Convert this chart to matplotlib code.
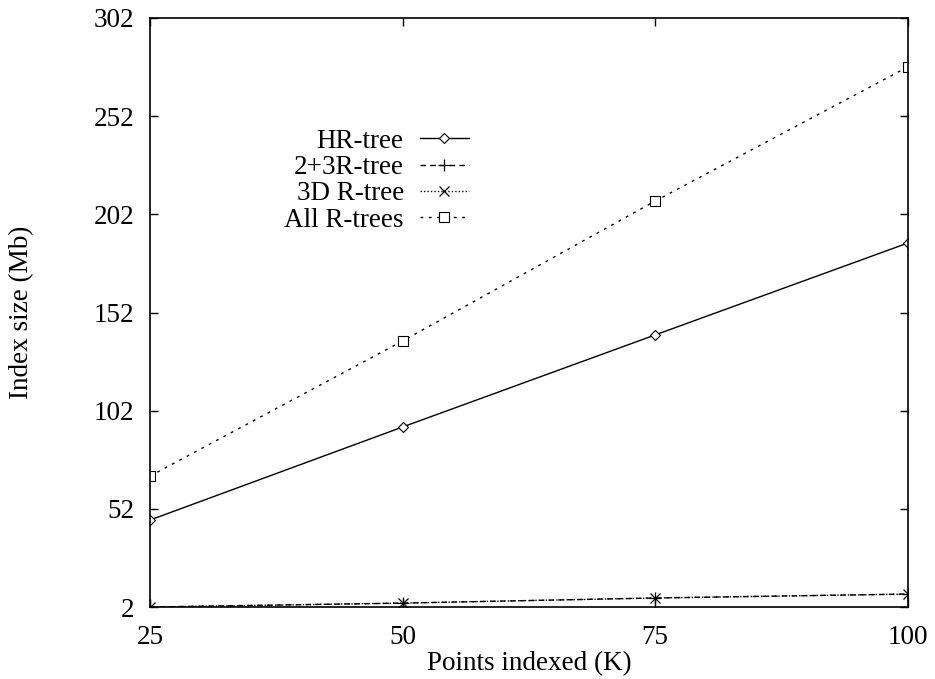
import matplotlib.pyplot as plt

plt.rcParams["font.family"] = ["Liberation Serif", "DejaVu Serif"]

# ── Data ──────────────────────────────────────────────────────────────────────
points_k = [25, 50, 75, 100]
hr_tree = [46.3, 93.7, 140.6, 187.4]
r23_tree = [2.0, 4.0, 6.6, 8.6]
r3d_tree = [2.0, 4.0, 6.6, 8.6]
all_rtrees = [68.7, 137.5, 208.8, 277.1]

x_ticks = [25, 50, 75, 100]
y_ticks = [2, 52, 102, 152, 202, 252, 302]

FS = 19.5

# ── Plot ──────────────────────────────────────────────────────────────────────
fig = plt.figure(figsize=(9.35, 6.79), dpi=100)
ax = fig.add_axes([0.1604, 0.106, 0.8106, 0.8675])

ax.plot(points_k, hr_tree, color="black", lw=1.0, ls="-",
        marker="D", ms=5, mfc="white", mec="black", mew=0.8, label="HR-tree")
ax.plot(points_k, r23_tree, color="black", lw=1.0, ls=(0, (4, 3)),
        marker="+", ms=8, mew=0.9, label="2+3R-tree")
ax.plot(points_k, r3d_tree, color="black", lw=1.0, ls=(0, (1, 1.5)),
        marker="x", ms=7, mew=0.9, label="3D R-tree")
ax.plot(points_k, all_rtrees, color="black", lw=1.0, ls=(0, (2, 4)),
        marker="s", ms=7, mfc="white", mec="black", mew=0.8, label="All R-trees")

ax.set_xlim(25, 100)
ax.set_ylim(2, 302)
ax.set_xticks(x_ticks)
ax.set_yticks(y_ticks)
ax.tick_params(direction="in", length=6, width=1, labelsize=FS,
               top=True, right=True)
ax.tick_params(axis="y", pad=11)
ax.tick_params(axis="x", pad=13)
for s in ax.spines.values():
    s.set_linewidth(1.2)

ax.set_xlabel("Points indexed (K)", fontsize=FS, labelpad=1)
ax.set_ylabel("Index size (Mb)", fontsize=FS, labelpad=43)

ax.legend(loc="upper right", bbox_to_anchor=(0.4385, 0.835), frameon=False,
          markerfirst=False, fontsize=FS, handlelength=1.8,
          handletextpad=0.6, labelspacing=0.05, borderpad=0)

plt.savefig("out.png", dpi=100)
